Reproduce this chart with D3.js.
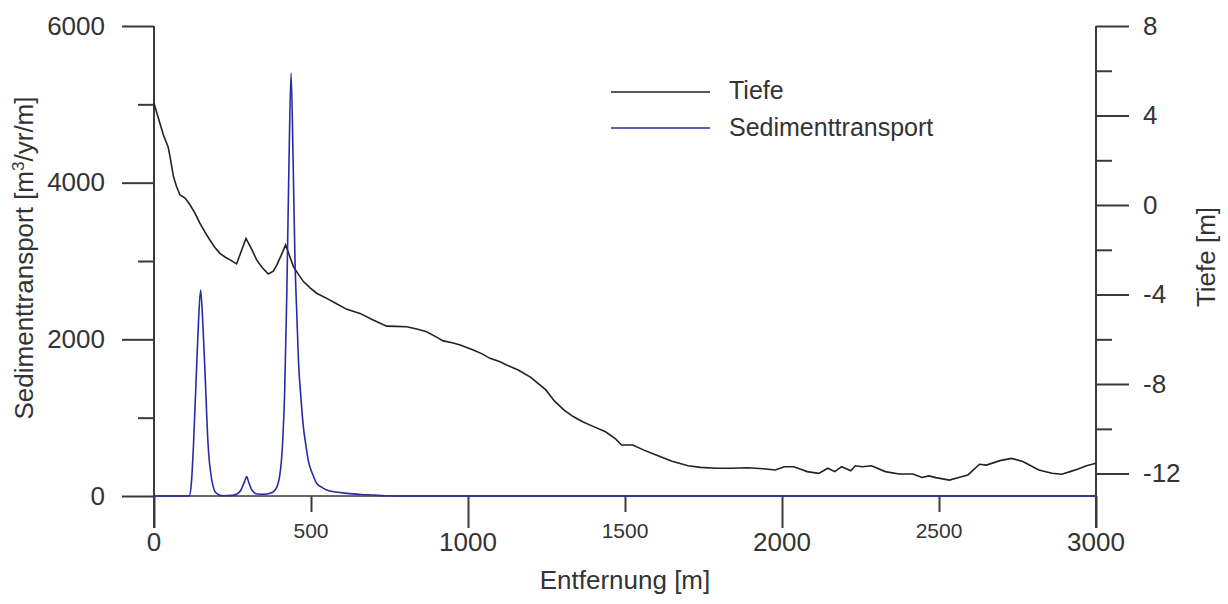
<!DOCTYPE html>
<html>
<head>
<meta charset="utf-8">
<script src="https://cdn.jsdelivr.net/npm/d3@7/dist/d3.min.js"></script>
<style>
  html, body { margin: 0; padding: 0; background: #fff; }
  svg { display: block; }
  text { font-family: "Liberation Sans", Arial, sans-serif; fill: #333; }
</style>
</head>
<body>
<svg id="chart" width="1228" height="604"></svg>
<script>
// ---- data ----
const sedX = [0, 100, 112, 119, 126, 134.5, 142, 148.5, 156, 163, 172, 184, 199, 220, 250, 264, 276, 288, 295, 302, 311, 320, 330, 350, 370, 386, 400, 409.5, 416, 423, 430, 436.5, 443, 449, 455, 460, 468, 475.6, 484, 491, 505, 518, 535, 550, 580, 614, 660, 699, 735, 800, 3000];
const sedY = [0, 0, 0, 162, 673, 1524, 2248, 2630, 2162, 1524, 673, 204, 34, 3, 8, 25, 70, 180, 247, 170, 80, 40, 25, 22, 35, 77, 250, 673, 1311, 2588, 4290, 5396, 4290, 3013, 2300, 1736, 1250, 885, 640, 460, 280, 162, 110, 77, 50, 34, 20, 12, 3, 0, 0];

const depX = [0, 14, 30, 45, 51, 62, 72, 83, 100, 115, 130, 146, 162, 178, 194, 210, 226, 242, 263, 293, 310, 327, 345, 364, 380, 391, 405, 419, 430, 444, 460, 476, 497, 518, 550, 580, 614, 656, 698, 741, 770, 805, 840, 868, 900, 921, 950, 975, 1017, 1045, 1070, 1102, 1123, 1160, 1200, 1248, 1275, 1306, 1335, 1365, 1400, 1438, 1470, 1489, 1525, 1560, 1599, 1650, 1701, 1740, 1789, 1840, 1891, 1940, 1978, 2008, 2037, 2060, 2080, 2117, 2146, 2168, 2190, 2219, 2234, 2256, 2285, 2329, 2373, 2417, 2446, 2468, 2490, 2533, 2563, 2592, 2629, 2651, 2694, 2731, 2767, 2818, 2860, 2891, 2920, 2943, 2970, 3000];
const depY = [4.55, 3.88, 3.13, 2.6, 2.16, 1.27, 0.82, 0.45, 0.3, 0.0, -0.35, -0.81, -1.2, -1.56, -1.9, -2.16, -2.32, -2.45, -2.63, -1.49, -1.95, -2.45, -2.8, -3.08, -2.95, -2.68, -2.25, -1.78, -2.2, -2.75, -3.1, -3.42, -3.7, -3.94, -4.17, -4.4, -4.66, -4.84, -5.14, -5.41, -5.42, -5.44, -5.55, -5.66, -5.9, -6.07, -6.15, -6.25, -6.48, -6.65, -6.85, -7.0, -7.15, -7.37, -7.7, -8.26, -8.75, -9.16, -9.45, -9.68, -9.9, -10.13, -10.45, -10.72, -10.72, -10.95, -11.17, -11.45, -11.65, -11.72, -11.76, -11.76, -11.74, -11.78, -11.84, -11.69, -11.69, -11.8, -11.91, -11.99, -11.76, -11.91, -11.69, -11.87, -11.65, -11.69, -11.65, -11.91, -12.02, -12.02, -12.17, -12.1, -12.18, -12.29, -12.17, -12.06, -11.58, -11.62, -11.42, -11.32, -11.46, -11.84, -11.98, -12.03, -11.9, -11.79, -11.65, -11.54];

const xMajorTicks = [0, 1000, 2000, 3000];
const xMinorTicks = [500, 1500, 2500];
const leftMajorTicks = [0, 2000, 4000, 6000];
const leftMinorTicks = [1000, 3000, 5000];
const rightMajorTicks = [-12, -8, -4, 0, 4, 8];
const rightMinorTicks = [-10, -6, -2, 2, 6];

const xTitle = "Entfernung [m]";
const rightTitle = "Tiefe [m]";
const legendLabels = ["Tiefe", "Sedimenttransport"];

// ---- layout ----
const svg = d3.select("#chart");
const L = 154, R = 1096, T = 26, B = 496;
const axisColor = "#3a3a3a";
const depthColor = "#222222";
const sedColor = "#2a2aa6";
const plainNum = d => String(d);

const x = d3.scaleLinear().domain([0, 3000]).range([L, R]);
const yL = d3.scaleLinear().domain([0, 6000]).range([B, T]);
const yR = d3.scaleLinear().domain([-13, 8]).range([B, T]);

function styleAxis(g) {
  g.select(".domain").remove();
  g.selectAll(".tick line").attr("stroke", axisColor).attr("stroke-width", 2);
  g.selectAll(".tick text").attr("fill", "#333").style("font-family", '"Liberation Sans", Arial, sans-serif');
}

// left axis
svg.append("g").attr("transform", `translate(${L},0)`)
  .call(d3.axisLeft(yL).tickValues(leftMajorTicks).tickSize(32).tickPadding(17).tickFormat(plainNum))
  .call(styleAxis)
  .call(g => g.selectAll(".tick text").style("font-size", "26px"));
svg.append("g").attr("transform", `translate(${L},0)`)
  .call(d3.axisLeft(yL).tickValues(leftMinorTicks).tickSize(16).tickFormat(""))
  .call(styleAxis);
svg.append("line").attr("x1", L).attr("x2", L).attr("y1", yL(6000)).attr("y2", yL(0) + 32)
  .attr("stroke", axisColor).attr("stroke-width", 2);

// right axis
svg.append("g").attr("transform", `translate(${R},0)`)
  .call(d3.axisRight(yR).tickValues(rightMajorTicks).tickSize(33).tickPadding(14).tickFormat(plainNum))
  .call(styleAxis)
  .call(g => g.selectAll(".tick text").style("font-size", "26px"));
svg.append("g").attr("transform", `translate(${R},0)`)
  .call(d3.axisRight(yR).tickValues(rightMinorTicks).tickSize(16).tickFormat(""))
  .call(styleAxis);
svg.append("line").attr("x1", R).attr("x2", R).attr("y1", yR(8)).attr("y2", yR(-13) + 32)
  .attr("stroke", axisColor).attr("stroke-width", 2);

// bottom axis
svg.append("g").attr("transform", `translate(0,${B})`)
  .call(d3.axisBottom(x).tickValues(xMajorTicks).tickSize(32).tickFormat(""))
  .call(styleAxis);
svg.append("g").attr("transform", `translate(0,${B})`)
  .call(d3.axisBottom(x).tickValues(xMinorTicks).tickSize(16).tickFormat(""))
  .call(styleAxis);
svg.append("line").attr("x1", L).attr("x2", R).attr("y1", B).attr("y2", B)
  .attr("stroke", axisColor).attr("stroke-width", 1.5);

svg.append("g").selectAll("text").data(xMajorTicks).join("text")
  .attr("x", d => x(d)).attr("y", 551).attr("text-anchor", "middle")
  .style("font-size", "26px").text(plainNum);
svg.append("g").selectAll("text").data(xMinorTicks).join("text")
  .attr("x", d => x(d)).attr("y", 538).attr("text-anchor", "middle")
  .style("font-size", "21px").text(plainNum);

// titles
svg.append("text").attr("x", (L + R) / 2).attr("y", 589).attr("text-anchor", "middle")
  .style("font-size", "26px").text(xTitle);

const lt = svg.append("text").attr("transform", `translate(33,258) rotate(-90)`)
  .attr("text-anchor", "middle").style("font-size", "26px");
lt.append("tspan").text("Sedimenttransport [m");
lt.append("tspan").attr("dy", -9).style("font-size", "17px").text("3");
lt.append("tspan").attr("dy", 9).text("/yr/m]");

svg.append("text").attr("transform", `translate(1215,257) rotate(-90)`)
  .attr("text-anchor", "middle").style("font-size", "26px").text(rightTitle);

// lines
const sedData = sedX.map((d, i) => [d, sedY[i]]);
const depData = depX.map((d, i) => [d, depY[i]]);

svg.append("path").datum(depData)
  .attr("fill", "none").attr("stroke", depthColor).attr("stroke-width", 1.6)
  .attr("d", d3.line().x(d => x(d[0])).y(d => yR(d[1])));

svg.append("path").datum(sedData)
  .attr("fill", "none").attr("stroke", sedColor).attr("stroke-width", 1.6)
  .attr("d", d3.line().curve(d3.curveMonotoneX).x(d => x(d[0])).y(d => yL(d[1])));

// legend
const legY = [92, 128];
const legText = [99, 136];
const legCol = [depthColor, sedColor];
legendLabels.forEach((lab, i) => {
  svg.append("line").attr("x1", 611).attr("x2", 710).attr("y1", legY[i]).attr("y2", legY[i])
    .attr("stroke", legCol[i]).attr("stroke-width", 1.6);
  svg.append("text").attr("x", 729).attr("y", legText[i]).style("font-size", "25px").text(lab);
});
</script>
</body>
</html>
